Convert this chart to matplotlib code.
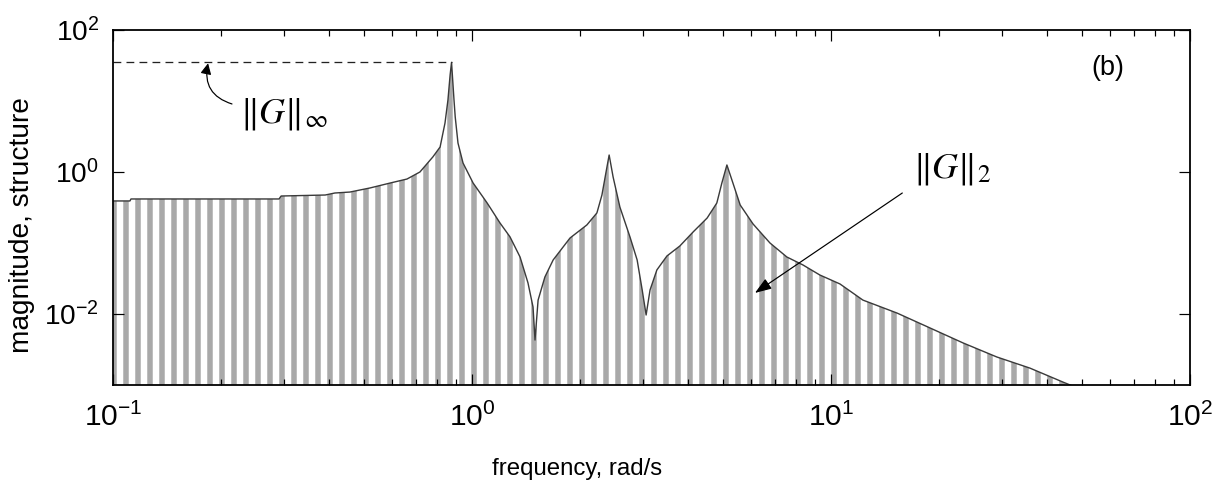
import matplotlib
matplotlib.use("Agg")
import matplotlib.pyplot as plt
from matplotlib.ticker import FixedLocator, NullLocator, FuncFormatter, LogLocator
import numpy as np

# ---- data ----
freq = [0.100, 0.1115, 0.1122, 0.290, 0.294, 0.390, 0.415, 0.457, 0.520, 0.592,
        0.659, 0.716, 0.778, 0.815, 0.841, 0.857, 0.869, 0.877, 0.891, 0.898,
        0.914, 0.944, 1.007, 1.102, 1.197, 1.276, 1.361, 1.432, 1.479, 1.498,
        1.528, 1.596, 1.683, 1.875, 2.089, 2.228, 2.301, 2.360, 2.410, 2.472,
        2.582, 2.754, 2.884, 2.979, 3.055, 3.133, 3.273, 3.491, 3.793, 4.130,
        4.519, 4.808, 4.966, 5.129, 5.297, 5.585, 6.067, 6.761, 7.534, 8.356,
        9.311, 10.59, 12.27, 15.28, 18.88, 23.33, 28.97, 35.81, 44.26, 52.6]
mag = [0.391, 0.391, 0.417, 0.417, 0.459, 0.474, 0.506, 0.522, 0.596, 0.700,
       0.796, 1.00, 1.63, 2.25, 4.90, 10.3, 23.2, 35.0, 10.3, 5.96,
       2.56, 1.34, 0.700, 0.366, 0.191, 0.122, 0.0635, 0.0274, 0.01256, 0.0043,
       0.0157, 0.0332, 0.0577, 0.1175, 0.1795, 0.265, 0.474, 0.968, 1.734, 0.851,
       0.321, 0.122, 0.0577, 0.0218, 0.00968, 0.0218, 0.0417, 0.0656, 0.0908, 0.143,
       0.225, 0.366, 0.700, 1.256, 0.771, 0.343, 0.185, 0.100, 0.0635, 0.0490,
       0.0354, 0.0265, 0.0157, 0.0103, 0.00635, 0.00391, 0.00248, 0.00173, 0.00110, 0.00077]

x_ticks = [1e-1, 1e0, 1e1, 1e2]
y_ticks = [1e-2, 1e0, 1e2]
x_label = "frequency, rad/s"
y_label = "magnitude, structure"
panel_label = "(b)"
hinf_label = r"$\Vert G\Vert_{\infty}$"
h2_label = r"$\Vert G\Vert_{2}$"

# ---- styling ----
plt.rcParams['font.family'] = ['Liberation Sans', 'DejaVu Sans']
plt.rcParams['hatch.linewidth'] = 5.5

DPI = 72
fig = plt.figure(figsize=(1229 / DPI, 485 / DPI), dpi=DPI)
ax = fig.add_axes([113 / 1229, 1 - 385 / 485, (1190 - 113) / 1229, (385 - 30) / 485])
ax.set_xscale('log')
ax.set_yscale('log')
ax.set_xlim(0.1, 100)
ax.set_ylim(1e-3, 1e2)

# striped area under the curve
ax.fill_between(freq, mag, 1e-5, facecolor='white', edgecolor='#a9a9a9',
                hatch='|', linewidth=0, zorder=1)
ax.plot(freq, mag, color='#3a3a3a', lw=1.4, zorder=3)

# H-infinity dashed line
ipk = int(np.argmax(mag))
hinf = mag[ipk]
ax.plot([freq[0], freq[ipk]], [hinf, hinf], color='#222222', lw=1.3,
        dashes=(6, 4), zorder=3)

# annotations
ax.annotate('', xy=(0.184, hinf * 0.97), xytext=(0.2145, 9.08),
            arrowprops=dict(arrowstyle='-|>,head_length=0.9,head_width=0.45',
                            connectionstyle='arc3,rad=-0.45', color='black',
                            lw=1.2, shrinkA=0, shrinkB=0), zorder=4)
ax.text(0.226, 6.5, hinf_label, fontsize=36, math_fontfamily='stix',
        ha='left', va='center', zorder=4)

ax.annotate('', xy=(6.14, 0.0198), xytext=(15.8, 0.506),
            arrowprops=dict(arrowstyle='-|>,head_length=1.4,head_width=0.5',
                            color='black', lw=1.2, shrinkA=0, shrinkB=0), zorder=4)
ax.text(16.9, 1.1, h2_label, fontsize=36, math_fontfamily='stix',
        ha='left', va='center', zorder=4)

ax.text(0.924, 0.893, panel_label, transform=ax.transAxes, fontsize=27,
        ha='center', va='center')

# axes / ticks
for s in ax.spines.values():
    s.set_linewidth(1.8)
    s.set_zorder(5)
ax.xaxis.set_major_locator(FixedLocator(x_ticks))
ax.xaxis.set_minor_locator(LogLocator(base=10, subs=np.arange(2, 10), numticks=20))
ax.yaxis.set_major_locator(FixedLocator(y_ticks))
ax.yaxis.set_minor_locator(NullLocator())
fmt = FuncFormatter(lambda v, p: r'$\mathregular{10^{%d}}$' % int(round(np.log10(v))))
ax.xaxis.set_major_formatter(fmt)
ax.yaxis.set_major_formatter(fmt)
ax.tick_params(which='both', direction='in', top=True, right=True, width=1.2)
ax.tick_params(which='major', length=11)
ax.tick_params(which='minor', length=6)
ax.tick_params(axis='x', pad=18, labelsize=30)
ax.tick_params(axis='y', pad=14, labelsize=28)

ax.set_xlabel(x_label, fontsize=24)
ax.set_ylabel(y_label, fontsize=28)
ax.xaxis.set_label_coords(0.431, -0.205)
ax.yaxis.set_label_coords(-0.0725, 0.45)

fig.savefig('out.png', dpi=DPI)
